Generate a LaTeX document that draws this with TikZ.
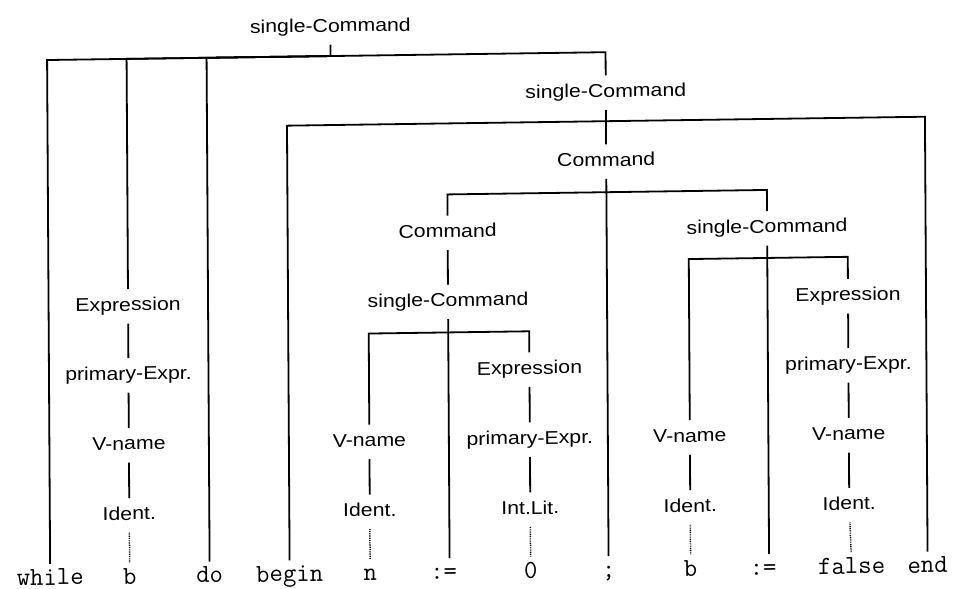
\documentclass[tikz,border=0pt]{standalone}
\usepackage{fontspec}
\setmainfont{Liberation Sans}
\newfontfamily\lblfont[FakeStretch=1.15]{Liberation Sans}
\begin{document}
\begin{tikzpicture}[x=1pt,y=-1pt,
  lbl/.style={font={\lblfont\fontsize{18.5}{22}\selectfont}, anchor=base,
    text height=13.2pt, text depth=4pt, inner xsep=2pt, inner ysep=8.5pt},
  tok/.style={font={\ttfamily\fontsize{26}{28}\selectfont}, anchor=base,
    text height=15.5pt, text depth=0pt, inner xsep=1pt, inner ysep=5.5pt},
  edge/.style={line width=1.8pt},
  dots/.style={line width=1.5pt, dash pattern=on 0.9pt off 0.9pt}]
\fill[white] (0,0) rectangle (956,589);
\useasboundingbox (0,0) rectangle (956,589);
\begin{scope}[transform canvas={shift={(478,295)}, xslant=-0.006, yslant=0.014, shift={(-478,-295)}}]
% labels
\node[lbl] (sc1) at (332,30) {single-Command};
\node[lbl] (sc2) at (607,99) {single-Command};
\node[lbl] (cmd0) at (607,168) {Command};
\node[lbl] (cmd1) at (448,237) {Command};
\node[lbl] (sc4) at (767.5,237) {single-Command};
\node[lbl] (sc3) at (448,306) {single-Command};
\node[lbl] (eb) at (128,306) {Expression};
\node[lbl] (e3) at (848,306) {Expression};
\node[lbl] (peb) at (128,375) {primary-Expr.};
\node[lbl] (e2) at (529,375) {Expression};
\node[lbl] (pe3) at (848,375) {primary-Expr.};
\node[lbl] (vnb) at (128,445) {V-name};
\node[lbl] (vn1) at (368.5,445) {V-name};
\node[lbl] (pe2) at (529,445) {primary-Expr.};
\node[lbl] (vn2) at (689,445) {V-name};
\node[lbl] (vn3) at (848,445) {V-name};
\node[lbl] (idb) at (128,515) {Ident.};
\node[lbl] (id1) at (368.5,515) {Ident.};
\node[lbl] (il) at (529,515) {Int.Lit.};
\node[lbl] (id2) at (689,515) {Ident.};
\node[lbl] (id3) at (848,515) {Ident.};
% tokens
\node[tok] (twhile) at (48.5,579) {while};
\node[tok] (tb1) at (128,579) {b};
\node[tok] (tdo) at (208,579) {do};
\node[tok] (tbegin) at (288,579) {begin};
\node[tok] (tn) at (368.5,579) {n};
\node[tok] (tas1) at (442,579) {:=};
\node[tok] (tzero) at (529,579) {0};
\node[tok] (tsemi) at (607,579) {;};
\node[tok] (tb2) at (689,579) {b};
\node[tok] (tas2) at (761.5,579) {:=};
\node[tok] (tfalse) at (850,579) {false};
\node[tok] (tend) at (926,579) {end};
% bar junctions
\coordinate (j1) at (332,54);
\coordinate (j2) at (607,123);
\coordinate (j3) at (607,194);
\coordinate (j4) at (448,332);
\coordinate (j5) at (767.5,262);
% top single-Command
\draw[edge] (sc1) -- (j1);
\draw[edge] (twhile) |- (j1);
\draw[edge] (eb) |- (j1);
\draw[edge] (tdo) |- (j1);
\draw[edge] (sc2) |- (j1);
\draw[edge] (eb) -- (peb);
\draw[edge] (peb) -- (vnb);
\draw[edge] (vnb) -- (idb);
\draw[dots] (idb) -- (tb1);
% inner single-Command
\draw[edge] (sc2) -- (j2);
\draw[edge] (tbegin) |- (j2);
\draw[edge] (tend) |- (j2);
\draw[edge] (cmd0) -- (j2);
% Command
\draw[edge] (cmd0) -- (j3);
\draw[edge] (cmd1) |- (j3);
\draw[edge] (sc4) |- (j3);
\draw[edge] (tsemi) -- (j3);
% left Command
\draw[edge] (cmd1) -- (sc3);
\draw[edge] (sc3) -- (j4);
\draw[edge] (vn1) |- (j4);
\draw[edge] (e2) |- (j4);
\draw[edge] (j4) -- (j4 |- tas1.north);
\draw[edge] (vn1) -- (id1);
\draw[dots] (id1) -- (tn);
\draw[edge] (e2) -- (pe2);
\draw[edge] (pe2) -- (il);
\draw[dots] (il) -- (tzero);
% right single-Command
\draw[edge] (sc4) -- (j5);
\draw[edge] (vn2) |- (j5);
\draw[edge] (e3) |- (j5);
\draw[edge] (j5) -- (j5 |- tas2.north);
\draw[edge] (vn2) -- (id2);
\draw[dots] (id2) -- (tb2);
\draw[edge] (e3) -- (pe3);
\draw[edge] (pe3) -- (vn3);
\draw[edge] (vn3) -- (id3);
\draw[dots] (id3) -- (tfalse);
\end{scope}
\end{tikzpicture}
\end{document}
